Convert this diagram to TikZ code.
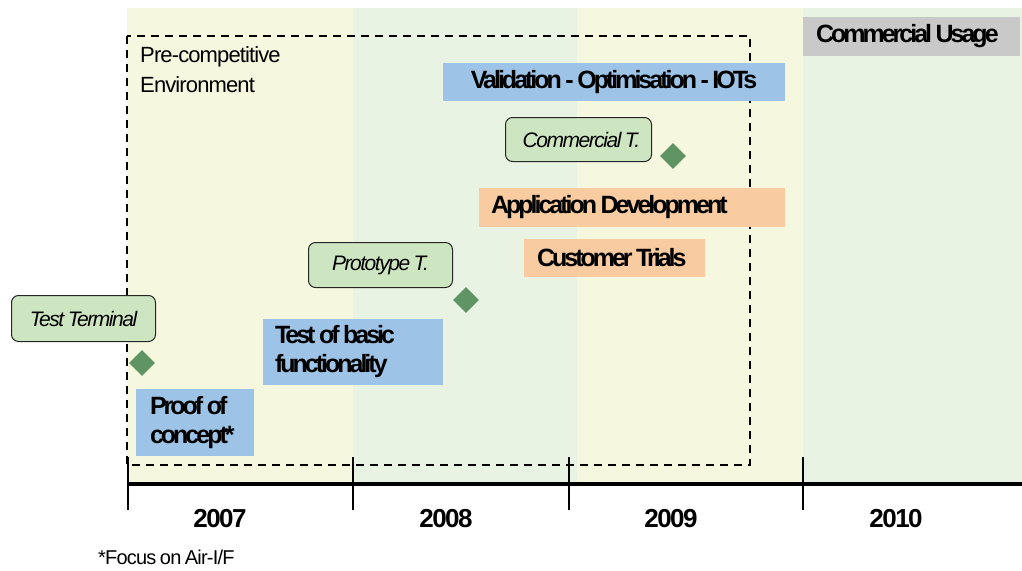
\documentclass[tikz,border=0pt]{standalone}
\usepackage{fontspec}
\setmainfont{Liberation Sans}
\newfontfamily\barfont[LetterSpace=-12]{Liberation Sans}
\newfontfamily\yearfont[LetterSpace=-6]{Liberation Sans}
\newfontfamily\msfont[LetterSpace=-7]{Liberation Sans}
\newfontfamily\plainfont[LetterSpace=-4]{Liberation Sans}
\newcommand\ws{\hspace{3.5pt}}
\usetikzlibrary{shapes.geometric}
\definecolor{bandY}{HTML}{F5F8DE}
\definecolor{bandG}{HTML}{E8F3E3}
\definecolor{barBlue}{HTML}{9DC3E6}
\definecolor{barOrange}{HTML}{F8CBA0}
\definecolor{barGray}{HTML}{C9C9C9}
\definecolor{msFill}{HTML}{CDE5C1}
\definecolor{dia}{HTML}{5F9464}
\tikzset{
  bar/.style={rectangle, anchor=north west, inner sep=0pt, outer sep=0pt, font=\barfont\fontsize{25}{29}\selectfont\bfseries, align=left},
  ms/.style={rectangle, rounded corners=7pt, draw=black!85, line width=1pt, fill=msFill, anchor=north west, inner sep=0pt, font=\msfont\fontsize{21}{24}\selectfont\itshape},
  mark diamond/.style={diamond, fill=dia, minimum width=26pt, minimum height=26pt, inner sep=0pt},
  yearlbl/.style={font=\yearfont\fontsize{26}{30}\selectfont\bfseries},
  tick/.style={line width=2.8pt}
}
\begin{document}
\begin{tikzpicture}[x=1pt,y=-1pt]
\useasboundingbox (0,0) rectangle (1022,570);
% bands
\fill[bandY] (127,8) rectangle (353,484);
\fill[bandG] (353,8) rectangle (577,484);
\fill[bandY] (577,8) rectangle (803,484);
\fill[bandG] (803,8) rectangle (1022,484);
% dashed pre-competitive box
\draw[line width=1.8pt, dash pattern=on 8pt off 6pt] (127,36) rectangle (750,465);
\node[anchor=north west, align=left, inner sep=0pt, font=\plainfont\fontsize{22}{30}\selectfont] (pre) at (140,46) {Pre-competitive\\Environment};
% axis
\draw[line width=3.5pt] (127,484) -- (1022,484);
\coordinate (t1) at (128,457); \coordinate (t1b) at (128,510);
\coordinate (t2) at (353,457); \coordinate (t2b) at (353,510);
\coordinate (t3) at (569,457); \coordinate (t3b) at (569,510);
\coordinate (t4) at (803,457); \coordinate (t4b) at (803,510);
\draw[tick] (t1) -- (t1b); \draw[tick] (t2) -- (t2b); \draw[tick] (t3) -- (t3b); \draw[tick] (t4) -- (t4b);
\node[yearlbl] (y7) at (220,519) {2007};
\node[yearlbl] (y8) at (446,519) {2008};
\node[yearlbl] (y9) at (671,519) {2009};
\node[yearlbl] (y10) at (896,519) {2010};
% bars
\node[bar, fill=barGray, minimum width=217pt, minimum height=39pt, text width=217pt] (cu) at (803,17) {\hspace*{13pt}Commercial\ws Usage};
\node[bar, fill=barBlue, minimum width=342pt, minimum height=38pt, text width=342pt, align=center] (val) at (443,63) {Validation\ws-\ws Optimisation\ws-\ws IOTs};
\node[bar, fill=barOrange, minimum width=306pt, minimum height=39pt, text width=306pt] (app) at (479,188) {\hspace*{12pt}Application\ws Development};
\node[bar, fill=barOrange, minimum width=181pt, minimum height=38pt, text width=181pt] (cust) at (524,239) {\hspace*{13pt}Customer\ws Trials};
\node[bar, fill=barBlue, minimum width=180pt, minimum height=66pt, text width=180pt] (tbf) at (263,319) {\hspace*{12pt}Test\ws of\ws basic\\\hspace*{12pt}functionality};
\node[bar, fill=barBlue, minimum width=118pt, minimum height=67pt, text width=118pt] (poc) at (136,389) {\hspace*{14pt}Proof\ws of\\\hspace*{14pt}concept*};
% milestones
\node[ms, minimum width=144pt, minimum height=46pt] (tt) at (11,295) {Test\ws Terminal};
\node[ms, minimum width=144pt, minimum height=45pt] (pt) at (308,242) {Prototype\ws T.};
\node[ms, minimum width=146pt, minimum height=44pt] (ct) at (505,117) {\hspace*{6pt}Commercial\ws T.};
\node[mark diamond] (d1) at (142,363) {};
\node[mark diamond] (d2) at (466,300) {};
\node[mark diamond] (d3) at (673,156) {};
% footnote
\node[anchor=west, inner sep=0pt, font=\plainfont\fontsize{20}{22}\selectfont] (fn) at (98,557) {*Focus\ws on\ws Air-I/F};
\end{tikzpicture}
\end{document}
